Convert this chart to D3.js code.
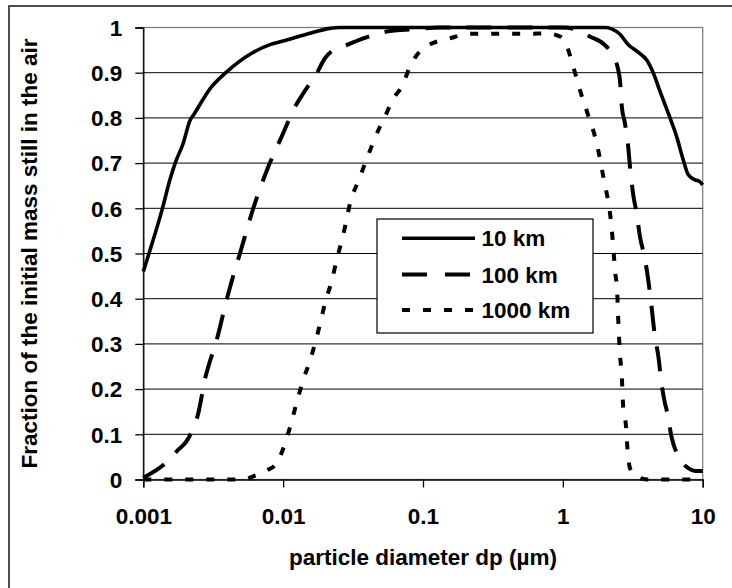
<!DOCTYPE html>
<html>
<head>
<meta charset="utf-8">
<script src="https://cdn.jsdelivr.net/npm/d3@7"></script>
<style>
  html, body { margin: 0; padding: 0; background: #fff; }
  svg { display: block; }
  text { font-family: "Liberation Sans", Arial, sans-serif; font-weight: bold; fill: #000; }
</style>
</head>
<body>
<svg id="chart" width="732" height="588"></svg>
<script>
// ---- data (diameter in µm, fraction still in the air) ----
const seriesNames = ["10 km", "100 km", "1000 km"];

const d10km = [0.001, 0.00107, 0.00136, 0.00155, 0.00169, 0.00193, 0.00216, 0.00228, 0.00308, 0.00395, 0.00596, 0.00805, 0.0100, 0.0147, 0.0216, 0.0251, 0.05, 0.1, 0.3, 1, 2.0, 2.23, 2.56, 2.94, 3.47, 3.98, 4.44, 4.96, 5.68, 6.52, 7.26, 7.89, 8.81, 9.44, 10];
const f10km = [0.46, 0.489, 0.596, 0.663, 0.70, 0.744, 0.795, 0.806, 0.869, 0.902, 0.943, 0.962, 0.970, 0.985, 0.998, 1.0, 1.0, 1.0, 1.0, 1.0, 1.0, 0.997, 0.985, 0.962, 0.945, 0.928, 0.899, 0.858, 0.81, 0.758, 0.707, 0.674, 0.663, 0.660, 0.652];

const d100km = [0.001, 0.00139, 0.00178, 0.00204, 0.00228, 0.00247, 0.00262, 0.00275, 0.00292, 0.00335, 0.00394, 0.00441, 0.00491, 0.00596, 0.00783, 0.0100, 0.0118, 0.0139, 0.0174, 0.0199, 0.0228, 0.0284, 0.0374, 0.0550, 0.0853, 0.132, 0.5, 1.0, 1.26, 1.56, 2.0, 2.23, 2.49, 2.56, 2.64, 2.78, 2.94, 3.02, 3.19, 3.37, 3.56, 3.86, 4.20, 4.56, 4.82, 5.09, 5.37, 5.52, 6.00, 6.89, 7.89, 8.81, 10];
const f100km = [0.004, 0.032, 0.066, 0.085, 0.114, 0.146, 0.185, 0.22, 0.25, 0.309, 0.397, 0.452, 0.50, 0.589, 0.692, 0.766, 0.817, 0.854, 0.899, 0.932, 0.95, 0.961, 0.976, 0.991, 0.996, 1.0, 1.0, 1.0, 0.995, 0.98, 0.961, 0.943, 0.906, 0.884, 0.825, 0.788, 0.733, 0.692, 0.629, 0.589, 0.537, 0.489, 0.412, 0.316, 0.272, 0.21, 0.169, 0.154, 0.093, 0.045, 0.025, 0.019, 0.019];

const d1000km = [0.001, 0.00506, 0.00647, 0.00762, 0.00899, 0.0100, 0.0112, 0.0125, 0.0139, 0.0156, 0.0174, 0.0189, 0.0199, 0.0222, 0.0242, 0.0269, 0.0301, 0.0355, 0.0406, 0.0493, 0.0535, 0.0614, 0.0705, 0.0807, 0.0925, 0.106, 0.156, 0.217, 0.582, 0.767, 0.955, 1.07, 1.19, 1.33, 1.52, 1.70, 1.85, 1.97, 2.11, 2.23, 2.30, 2.36, 2.45, 2.49, 2.56, 2.64, 2.70, 2.83, 2.89, 3.02, 3.28, 3.98, 10];
const f1000km = [0, 0, 0.01, 0.02, 0.036, 0.068, 0.116, 0.17, 0.22, 0.264, 0.316, 0.36, 0.39, 0.438, 0.487, 0.541, 0.611, 0.67, 0.718, 0.781, 0.803, 0.843, 0.869, 0.913, 0.943, 0.958, 0.976, 0.986, 0.986, 0.987, 0.98, 0.958, 0.912, 0.86, 0.805, 0.758, 0.707, 0.661, 0.615, 0.559, 0.508, 0.463, 0.412, 0.353, 0.279, 0.227, 0.161, 0.117, 0.073, 0.025, 0.01, 0, 0];

const xTicks = [0.001, 0.01, 0.1, 1, 10];
const xTickLabels = ["0.001", "0.01", "0.1", "1", "10"];
const yTicks = [0, 0.1, 0.2, 0.3, 0.4, 0.5, 0.6, 0.7, 0.8, 0.9, 1];
const yTickLabels = ["0", "0.1", "0.2", "0.3", "0.4", "0.5", "0.6", "0.7", "0.8", "0.9", "1"];
const xTitle = "particle diameter dp (µm)";
const yTitle = "Fraction of the initial mass still in the air";

// ---- layout ----
const L = 143.3, R = 702.7, T = 27.5, B = 479.5;
const svg = d3.select("#chart");

// outer chart frame
svg.append("rect").attr("x", 9).attr("y", 6).attr("width", 740).attr("height", 600)
  .attr("fill", "#fff").attr("stroke", "#222").attr("stroke-width", 1.6);

const x = d3.scaleLog().domain([0.001, 10]).range([L, R]);
const y = d3.scaleLinear().domain([0, 1]).range([B, T]);

// plot area
svg.append("rect").attr("x", L).attr("y", T).attr("width", R - L).attr("height", B - T)
  .attr("fill", "#fff").attr("stroke", "#808080").attr("stroke-width", 1.3);

// gridlines
svg.append("g").selectAll("line").data(yTicks.filter(v => v > 0 && v < 1)).join("line")
  .attr("x1", L).attr("x2", R).attr("y1", d => y(d)).attr("y2", d => y(d))
  .attr("stroke", "#000").attr("stroke-width", 1);

// axes
const yAxis = d3.axisLeft(y).tickValues(yTicks).tickSize(8).tickFormat((d, i) => yTickLabels[i]);
const gy = svg.append("g").attr("transform", `translate(${L},0)`).call(yAxis);
gy.select(".domain").attr("stroke", "#000").attr("stroke-width", 1.3);
gy.selectAll(".tick line").attr("stroke", "#000").attr("stroke-width", 1.3);
gy.selectAll(".tick text").attr("x", -21).attr("dy", "0.35em")
  .style("font-family", '"Liberation Sans", Arial, sans-serif').style("font-weight", "bold")
  .style("font-size", "22.5px").attr("fill", "#000");

const xAxis = d3.axisBottom(x).tickValues(xTicks).tickSize(8).tickFormat((d, i) => xTickLabels[i]);
const gx = svg.append("g").attr("transform", `translate(0,${B})`).call(xAxis);
gx.select(".domain").attr("stroke", "#000").attr("stroke-width", 1.3);
gx.selectAll(".tick line").attr("stroke", "#000").attr("stroke-width", 1.3);
gx.selectAll(".tick text").attr("y", 44).attr("dy", 0)
  .style("font-family", '"Liberation Sans", Arial, sans-serif').style("font-weight", "bold")
  .style("font-size", "22.5px").attr("fill", "#000");

// axis titles
svg.append("text").attr("x", (L + R) / 2).attr("y", 565).attr("text-anchor", "middle")
  .style("font-size", "22.5px").text(xTitle);
svg.append("text").attr("transform", `translate(37,${(T + B) / 2}) rotate(-90)`)
  .attr("text-anchor", "middle").style("font-size", "22.5px").text(yTitle);

// series
const series = [
  { name: seriesNames[0], d: d10km, f: f10km, dash: null, w: 3.6 },
  { name: seriesNames[1], d: d100km, f: f100km, dash: "25,16", w: 4 },
  { name: seriesNames[2], d: d1000km, f: f1000km, dash: "8,13", w: 4 }
];
const line = d3.line().x(p => x(p[0])).y(p => y(p[1])).curve(d3.curveMonotoneX);
series.forEach(s => {
  svg.append("path").datum(s.d.map((v, i) => [v, s.f[i]]))
    .attr("d", line).attr("fill", "none").attr("stroke", "#000")
    .attr("stroke-width", s.w).attr("stroke-dasharray", s.dash);
});

// legend
const lg = svg.append("g");
lg.append("rect").attr("x", 377).attr("y", 219).attr("width", 216).attr("height", 114)
  .attr("fill", "#fff").attr("stroke", "#000").attr("stroke-width", 1.2);
const rows = [238.3, 274.5, 310];
const legDash = [null, "25,18", "8,13"];
series.forEach((s, i) => {
  lg.append("line").attr("x1", 402).attr("x2", 475).attr("y1", rows[i]).attr("y2", rows[i])
    .attr("stroke", "#000").attr("stroke-width", s.w).attr("stroke-dasharray", legDash[i]);
  lg.append("text").attr("x", 481.5).attr("y", rows[i] + 8).style("font-size", "22.5px").text(s.name);
});
</script>
</body>
</html>
